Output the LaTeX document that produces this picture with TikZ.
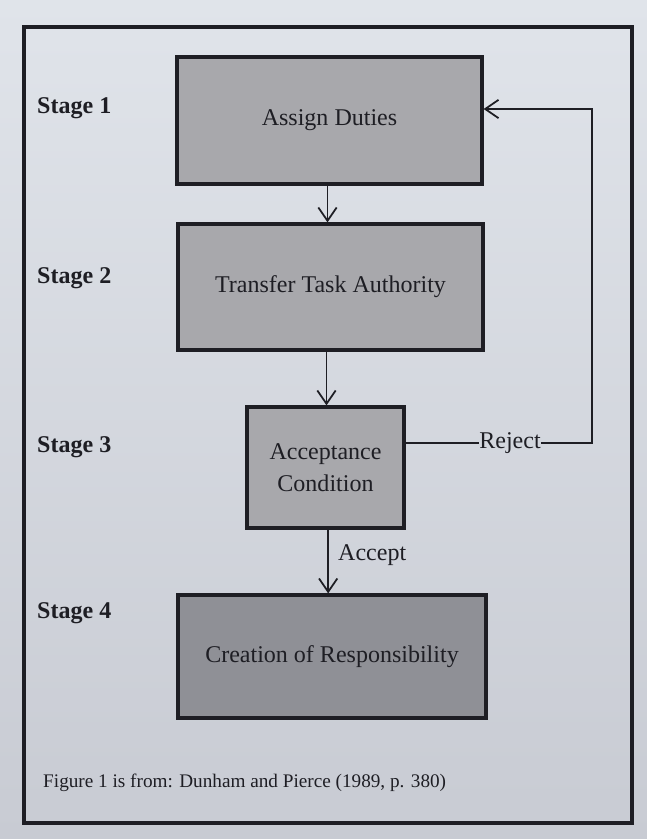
\documentclass[tikz,border=0pt]{standalone}
\usepackage{fontspec}
\setmainfont{Liberation Serif}
\usetikzlibrary{arrows.meta}
\definecolor{bgtop}{RGB}{224,228,234}
\definecolor{bgbot}{RGB}{200,203,211}
\definecolor{boxfill}{RGB}{168,168,172}
\definecolor{boxdark}{RGB}{143,144,150}
\definecolor{ink}{RGB}{30,30,36}
\begin{document}
\begin{tikzpicture}[x=0.03cm,y=-0.03cm,
  stagebox/.style={draw=ink, line width=2.8pt, fill=boxfill, text=ink,
    font=\fontsize{20.5}{25}\selectfont, align=center, inner sep=0pt},
  stagelabel/.style={anchor=west, text=ink, font=\fontsize{20.5}{25}\selectfont\bfseries, inner sep=0pt},
  lbl/.style={text=ink, font=\fontsize{20.5}{25}\selectfont, inner sep=0pt},
  conn/.style={draw=ink, line width=1.5pt, -{Straight Barb[length=4mm,width=5.5mm]}},
  plain/.style={draw=ink, line width=1.5pt}]
% background
\shade[top color=bgtop, bottom color=bgbot] (0,0) rectangle (647,839);
\useasboundingbox (0,0) rectangle (647,839);
% frame
\draw[ink, line width=2.6pt] (24,27) rectangle (632,823);
% boxes
\node[stagebox, minimum width=9.15cm, minimum height=3.81cm] (b1) at (329.5,120.5) {Assign Duties};
\node[stagebox, minimum width=9.15cm, minimum height=3.78cm] (b2) at (330.5,287) {Transfer Task Authority};
\node[stagebox, minimum width=4.71cm, minimum height=3.63cm] (b3) at (325.5,467.5) {Acceptance\\[2pt]Condition};
\node[stagebox, fill=boxdark, minimum width=9.24cm, minimum height=3.69cm] (b4) at (332,656.5) {Creation of Responsibility};
% stage labels
\node[stagelabel] (s1) at (37,108) {Stage 1};
\node[stagelabel] (s2) at (37,278) {Stage 2};
\node[stagelabel] (s3) at (37,447) {Stage 3};
\node[stagelabel] (s4) at (37,613) {Stage 4};
% down arrows
\draw[conn] ([xshift=-0.06cm]b1.south) -- ([xshift=-0.06cm]b1.south |- b2.north);
\draw[conn] ([xshift=0.03cm]b3.north |- b2.south) -- ([xshift=0.03cm]b3.north);
\draw[conn] ([xshift=0.08cm]b3.south) -- ([xshift=0.08cm]b3.south |- b4.north);
\node[lbl, anchor=west] (acc) at (338,555) {Accept};
% reject loop
\node[lbl] (rej) at (510,443) {Reject};
\coordinate (r1) at (592,443);
\coordinate (r2) at (592,109);
\draw[plain] (b3.east |- rej) -- (rej.west);
\draw[conn] (rej.east) -- (r1) -- (r2) -- (b1.east |- r2);
% caption
\node[anchor=west, text=ink, font=\fontsize{16.4}{20}\selectfont, inner sep=0pt] (cap) at (43,783) {Figure 1 is from: Dunham and Pierce (1989, p. 380)};
\end{tikzpicture}
\end{document}
